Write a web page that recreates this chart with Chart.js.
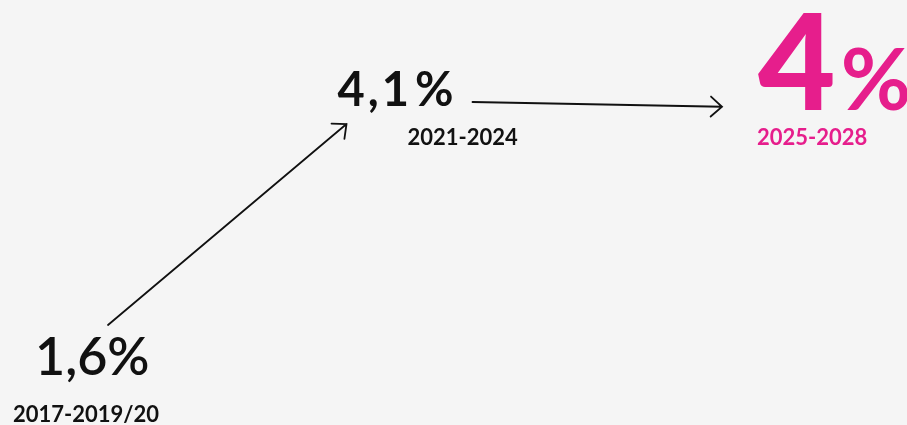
<!DOCTYPE html>
<html>
<head>
<meta charset="utf-8">
<script src="https://cdn.jsdelivr.net/npm/chart.js@4"></script>
<style>
  html, body { margin: 0; padding: 0; background: #f5f5f5; }
  #wrap { width: 907px; height: 425px; }
</style>
</head>
<body>
<div id="wrap"><canvas id="myChart" width="907" height="425"></canvas></div>
<script>
// data
const periods = ['2017-2019/20', '2021-2024', '2025-2028'];
const growth = [1.6, 4.1, 4.0];
const valueLabels = ['1,6%', '4,1%', '4%'];

// look of each label (offsets are relative to the point the scales give)
const styles = [
	{ color: '#111111', numSize: 52, numWeight: 600, pctSize: 52, pctWeight: 600, pctGap: 0, spacing: 0, dx: -2, dy: 0, lblDx: -24, lblDy: 47 },
	{ color: '#111111', numSize: 47, numWeight: 700, pctSize: 47, pctWeight: 700, pctGap: 3, spacing: 3, dx: -60, dy: 0, lblDx: 10, lblDy: 39 },
	{ color: '#e61e8c', numSize: 134, numWeight: 900, pctSize: 86, pctWeight: 700, pctGap: 5, spacing: 0, dx: 0, dy: -7, lblDx: -1, lblDy: 28 }
];
// arrows from point i to point i+1: [start dx, start dy, end dx, end dy]
const arrows = [
	[71, -50, -51, 18],
	[75, -4, -36, -10]
];

const FONT = 'Lato, "Open Sans", sans-serif';

const infographic = {
	id: 'infographic',
	afterDatasetsDraw(chart) {
		const ctx = chart.ctx;
		const pts = chart.getDatasetMeta(0).data;
		ctx.save();
		ctx.textBaseline = 'alphabetic';
		ctx.textAlign = 'left';
		pts.forEach((p, i) => {
			const s = styles[i];
			const x = p.x + s.dx, y = p.y + s.dy;
			const txt = valueLabels[i];
			const num = txt.replace('%', '');
			ctx.fillStyle = s.color;
			ctx.letterSpacing = s.spacing + 'px';
			ctx.font = s.numWeight + ' ' + s.numSize + 'px ' + FONT;
			ctx.fillText(num, x, y);
			const w = ctx.measureText(num).width;
			ctx.font = s.pctWeight + ' ' + s.pctSize + 'px ' + FONT;
			ctx.fillText('%', x + w + s.pctGap, y);
			ctx.letterSpacing = '0px';
			ctx.font = '700 22px ' + FONT;
			ctx.fillText(periods[i], p.x + s.lblDx, p.y + s.lblDy);
		});

		ctx.strokeStyle = '#111111';
		ctx.lineWidth = 1.8;
		ctx.lineCap = 'round';
		arrows.forEach((a, i) => {
			const x1 = pts[i].x + a[0], y1 = pts[i].y + a[1];
			const x2 = pts[i + 1].x + a[2], y2 = pts[i + 1].y + a[3];
			const ang = Math.atan2(y2 - y1, x2 - x1);
			const head = 15, spread = Math.PI / 4.3;
			ctx.beginPath();
			ctx.moveTo(x1, y1);
			ctx.lineTo(x2, y2);
			ctx.moveTo(x2 - head * Math.cos(ang - spread), y2 - head * Math.sin(ang - spread));
			ctx.lineTo(x2, y2);
			ctx.lineTo(x2 - head * Math.cos(ang + spread), y2 - head * Math.sin(ang + spread));
			ctx.stroke();
		});
		ctx.restore();
	}
};

const data = {
	labels: periods,
	datasets: [{
		label: 'Growth',
		data: growth,
		showLine: false,
		pointRadius: 0,
		pointHoverRadius: 0
	}]
};

const config = {
	type: 'line',
	data: data,
	options: {
		responsive: false,
		animation: false,
		layout: {
			padding: { left: 37, right: 149, top: 106, bottom: 50 }
		},
		plugins: {
			legend: { display: false },
			tooltip: { enabled: false }
		},
		scales: {
			x: { display: false, offset: false },
			y: { display: false, min: 1.6, max: 4.1 }
		}
	},
	plugins: [infographic]
};

const myChart = new Chart(
	document.getElementById('myChart'),
	config
);
</script>
</body>
</html>
